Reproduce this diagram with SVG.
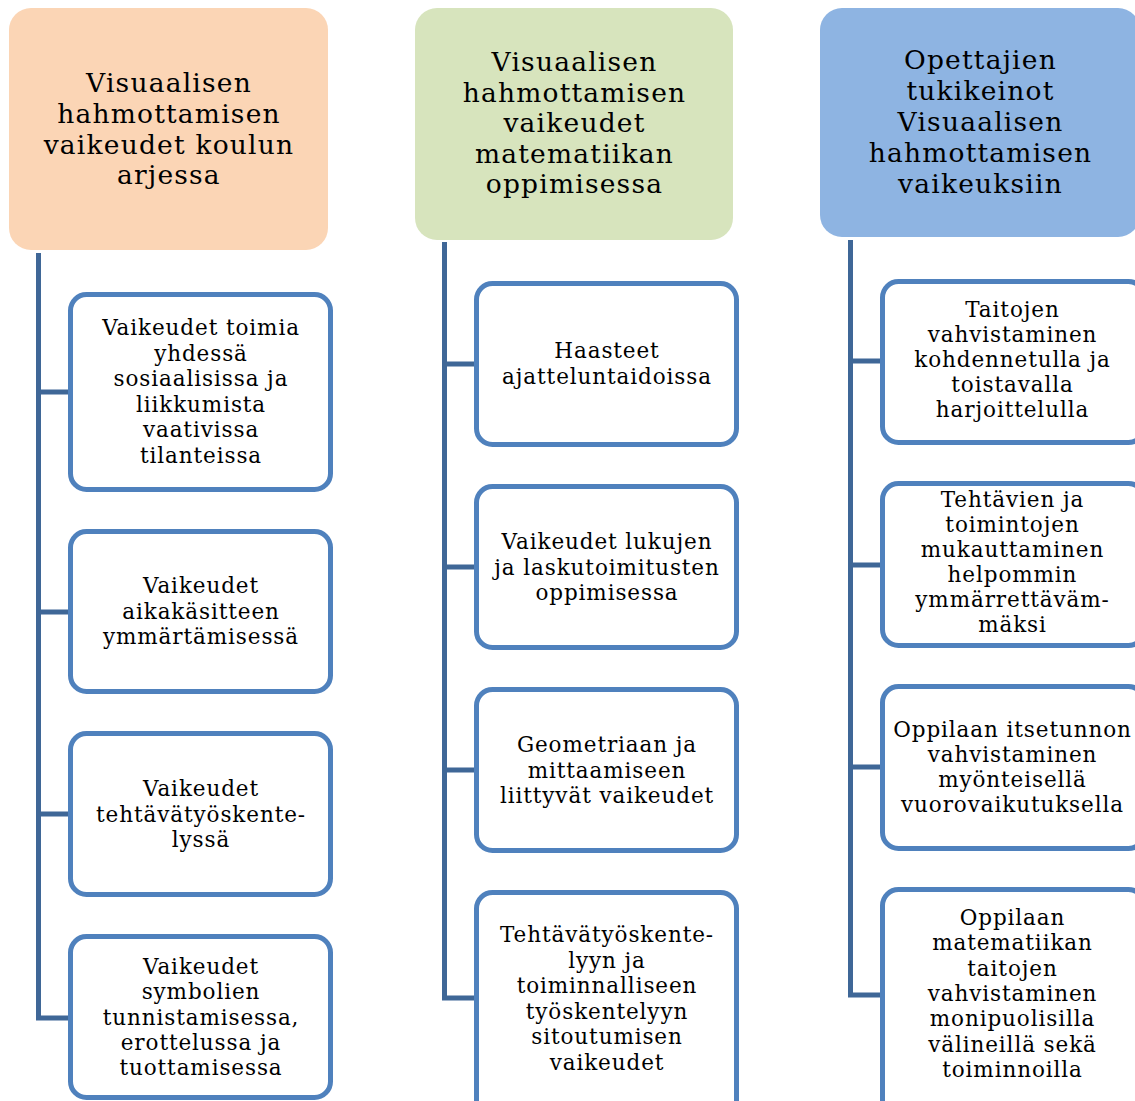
<svg xmlns="http://www.w3.org/2000/svg" width="1135" height="1101" viewBox="0 0 1135 1101">
<style>
.hd{stroke:none}
.box{fill:#fff;stroke:#4F81BD;stroke-width:5}
.conn{fill:none;stroke:#3F6797;stroke-width:5;stroke-linejoin:miter}
text{font-family:"DejaVu Serif","Liberation Serif",serif;fill:#000;text-anchor:middle}
.ht{font-size:26.5px;letter-spacing:1.2px}
.bt{font-size:21.5px;letter-spacing:0.9px}
</style>
<rect width="1135" height="1101" fill="#fff"/>
<g id="connectors">
<path class="conn" d="M38.5 253 V1018 H70 M38.5 392 H70 M38.5 612 H70 M38.5 814 H70"/>
<path class="conn" d="M444.5 242 V998 H476 M444.5 364 H476 M444.5 567 H476 M444.5 770 H476"/>
<path class="conn" d="M850.5 240 V995 H882 M850.5 361 H882 M850.5 565 H882 M850.5 767 H882"/>
</g>
<g id="h1">
<rect class="hd" x="9" y="8" width="319" height="242" rx="22" fill="#FBD5B5"/>
<text class="ht"><tspan x="169" y="92">Visuaalisen</tspan><tspan x="169" y="123">hahmottamisen</tspan><tspan x="169" y="154">vaikeudet koulun</tspan><tspan x="169" y="184">arjessa</tspan></text>
</g>
<g id="h2">
<rect class="hd" x="415" y="8" width="318" height="232" rx="22" fill="#D7E4BD"/>
<text class="ht"><tspan x="574.5" y="71">Visuaalisen</tspan><tspan x="574.5" y="101.5">hahmottamisen</tspan><tspan x="574.5" y="132">vaikeudet</tspan><tspan x="574.5" y="162.5">matematiikan</tspan><tspan x="574.5" y="193">oppimisessa</tspan></text>
</g>
<g id="h3">
<rect class="hd" x="820" y="8" width="320" height="229" rx="22" fill="#8EB4E2"/>
<text class="ht"><tspan x="980.5" y="69">Opettajien</tspan><tspan x="980.5" y="100">tukikeinot</tspan><tspan x="980.5" y="131">Visuaalisen</tspan><tspan x="980.5" y="162">hahmottamisen</tspan><tspan x="980.5" y="193">vaikeuksiin</tspan></text>
</g>
<g id="c1b1">
<rect class="box" x="70.5" y="294.5" width="260" height="195" rx="16"/>
<text class="bt"><tspan x="201" y="335">Vaikeudet toimia</tspan><tspan x="201" y="360.5">yhdessä</tspan><tspan x="201" y="386">sosiaalisissa ja</tspan><tspan x="201" y="411.5">liikkumista</tspan><tspan x="201" y="437">vaativissa</tspan><tspan x="201" y="462.5">tilanteissa</tspan></text>
</g>
<g id="c1b2">
<rect class="box" x="70.5" y="531.5" width="260" height="160" rx="16"/>
<text class="bt"><tspan x="201" y="593">Vaikeudet</tspan><tspan x="201" y="618.5">aikakäsitteen</tspan><tspan x="201" y="644">ymmärtämisessä</tspan></text>
</g>
<g id="c1b3">
<rect class="box" x="70.5" y="733.5" width="260" height="161" rx="16"/>
<text class="bt"><tspan x="201" y="796">Vaikeudet</tspan><tspan x="201" y="821.5">tehtävätyöskente-</tspan><tspan x="201" y="847">lyssä</tspan></text>
</g>
<g id="c1b4">
<rect class="box" x="70.5" y="936.5" width="260" height="161" rx="16"/>
<text class="bt"><tspan x="201" y="974">Vaikeudet</tspan><tspan x="201" y="999.3">symbolien</tspan><tspan x="201" y="1024.6">tunnistamisessa,</tspan><tspan x="201" y="1050">erottelussa ja</tspan><tspan x="201" y="1075.3">tuottamisessa</tspan></text>
</g>
<g id="c2b1">
<rect class="box" x="476.5" y="283.5" width="260" height="161" rx="16"/>
<text class="bt"><tspan x="607" y="358">Haasteet</tspan><tspan x="607" y="383.5">ajatteluntaidoissa</tspan></text>
</g>
<g id="c2b2">
<rect class="box" x="476.5" y="486.5" width="260" height="161" rx="16"/>
<text class="bt"><tspan x="607" y="549">Vaikeudet lukujen</tspan><tspan x="607" y="574.5">ja laskutoimitusten</tspan><tspan x="607" y="600">oppimisessa</tspan></text>
</g>
<g id="c2b3">
<rect class="box" x="476.5" y="689.5" width="260" height="161" rx="16"/>
<text class="bt"><tspan x="607" y="752">Geometriaan ja</tspan><tspan x="607" y="777.5">mittaamiseen</tspan><tspan x="607" y="803">liittyvät vaikeudet</tspan></text>
</g>
<g id="c2b4">
<rect class="box" x="476.5" y="892.5" width="260" height="230" rx="16"/>
<text class="bt"><tspan x="607" y="942">Tehtävätyöskente-</tspan><tspan x="607" y="967.6">lyyn ja</tspan><tspan x="607" y="993.2">toiminnalliseen</tspan><tspan x="607" y="1018.8">työskentelyyn</tspan><tspan x="607" y="1044.4">sitoutumisen</tspan><tspan x="607" y="1070">vaikeudet</tspan></text>
</g>
<g id="c3b1">
<rect class="box" x="882.5" y="281.5" width="262" height="161" rx="16"/>
<text class="bt"><tspan x="1012.5" y="317">Taitojen</tspan><tspan x="1012.5" y="342">vahvistaminen</tspan><tspan x="1012.5" y="367">kohdennetulla ja</tspan><tspan x="1012.5" y="392">toistavalla</tspan><tspan x="1012.5" y="417">harjoittelulla</tspan></text>
</g>
<g id="c3b2">
<rect class="box" x="882.5" y="483.5" width="262" height="162" rx="16"/>
<text class="bt"><tspan x="1012.5" y="507">Tehtävien ja</tspan><tspan x="1012.5" y="532">toimintojen</tspan><tspan x="1012.5" y="557">mukauttaminen</tspan><tspan x="1012.5" y="582">helpommin</tspan><tspan x="1012.5" y="607">ymmärrettäväm-</tspan><tspan x="1012.5" y="632">mäksi</tspan></text>
</g>
<g id="c3b3">
<rect class="box" x="882.5" y="686.5" width="262" height="162" rx="16"/>
<text class="bt"><tspan x="1012.5" y="737">Oppilaan itsetunnon</tspan><tspan x="1012.5" y="762">vahvistaminen</tspan><tspan x="1012.5" y="787">myönteisellä</tspan><tspan x="1012.5" y="812">vuorovaikutuksella</tspan></text>
</g>
<g id="c3b4">
<rect class="box" x="882.5" y="889.5" width="262" height="230" rx="16"/>
<text class="bt"><tspan x="1012.5" y="925">Oppilaan</tspan><tspan x="1012.5" y="950.3">matematiikan</tspan><tspan x="1012.5" y="975.6">taitojen</tspan><tspan x="1012.5" y="1001">vahvistaminen</tspan><tspan x="1012.5" y="1026.3">monipuolisilla</tspan><tspan x="1012.5" y="1051.6">välineillä sekä</tspan><tspan x="1012.5" y="1077">toiminnoilla</tspan></text>
</g>
</svg>
